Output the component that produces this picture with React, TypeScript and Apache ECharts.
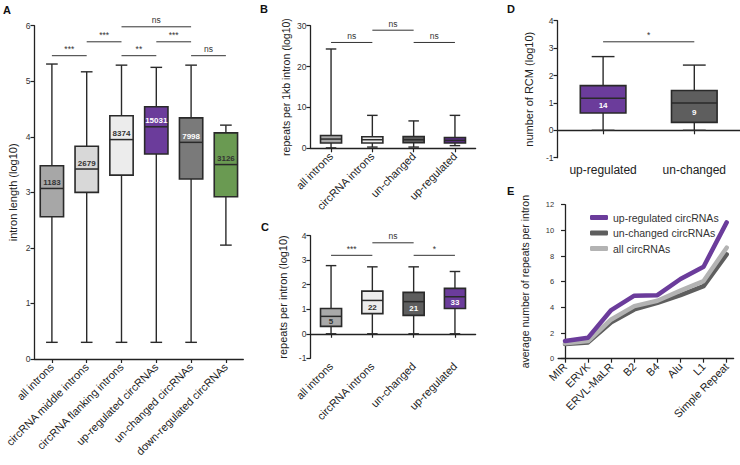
import React, { useEffect, useRef } from 'react';
import * as echarts from 'echarts';

const FONT = '"Liberation Sans", Arial, Helvetica, sans-serif';

// ---------- Panel A ----------
const aCategories = ['all introns', 'circRNA middle introns', 'circRNA flanking introns', 'up-regulated circRNAs', 'un-changed circRNAs', 'down-regulated circRNAs'];
const aMin = [0.3, 0.3, 0.3, 0.3, 0.3, 2.05];
const aQ1 = [2.56, 3.0, 3.31, 3.69, 3.24, 2.92];
const aMedian = [3.07, 3.42, 3.95, 4.18, 3.9, 3.5];
const aQ3 = [3.48, 3.83, 4.38, 4.54, 4.34, 4.07];
const aMax = [5.31, 5.17, 5.29, 5.25, 5.29, 4.21];
const aCounts = ['1183', '2679', '8374', '15031', '7998', '3126'];
const aSigFrom = [0, 1, 2, 2, 3, 4];
const aSigTo = [1, 2, 3, 4, 4, 5];
const aSigY = [5.46, 5.71, 5.46, 5.98, 5.71, 5.46];
const aSigText = ['***', '***', '**', 'ns', '***', 'ns'];
const aColors = ['#a7a7a7', '#d8d8d8', '#ececec', '#6b3c9b', '#7a7a7a', '#6a9a52'];
const aLabelColors = ['#333', '#333', '#333', '#fff', '#fff', '#333'];

// ---------- Panel B ----------
const bCategories = ['all introns', 'circRNA introns', 'un-changed', 'up-regulated'];
const bMin = [0.1, 0.3, 0.3, 0.65];
const bQ1 = [1.29, 1.29, 1.37, 1.29];
const bMedian = [2.26, 2.1, 2.1, 1.94];
const bQ3 = [3.15, 2.82, 2.9, 2.66];
const bMax = [24.3, 8.06, 6.7, 8.06];
const bSigFrom = [0, 1, 2];
const bSigTo = [1, 2, 3];
const bSigY = [25.9, 28.9, 25.9];
const bSigText = ['ns', 'ns', 'ns'];
const bColors = ['#a9a9a9', '#ececec', '#5e5e5e', '#5a2d85'];

// ---------- Panel C ----------
const cCategories = ['all introns', 'circRNA introns', 'un-changed', 'up-regulated'];
const cMin = [0, 0, 0, 0];
const cQ1 = [0.3, 0.82, 0.75, 1.03];
const cMedian = [0.71, 1.36, 1.31, 1.51];
const cQ3 = [1.03, 1.74, 1.69, 1.85];
const cMax = [2.78, 2.73, 2.73, 2.54];
const cCounts = ['5', '22', '21', '33'];
const cSigFrom = [0, 1, 2];
const cSigTo = [1, 2, 3];
const cSigY = [3.2, 3.71, 3.2];
const cSigText = ['***', 'ns', '*'];
const cColors = ['#a9a9a9', '#ececec', '#5e5e5e', '#6b3c9b'];
const cLabelColors = ['#333', '#333', '#fff', '#fff'];

// ---------- Panel D ----------
const dCategories = ['up-regulated', 'un-changed'];
const dMin = [0, 0];
const dQ1 = [0.63, 0.29];
const dMedian = [1.17, 1.0];
const dQ3 = [1.63, 1.45];
const dMax = [2.69, 2.38];
const dCounts = ['14', '9'];
const dSigFrom = [0];
const dSigTo = [1];
const dSigY = [3.23];
const dSigText = ['*'];
const dColors = ['#6b3c9b', '#5e5e5e'];
const dLabelColors = ['#fff', '#fff'];

// ---------- Panel E ----------
const eCategories = ['MIR', 'ERVK', 'ERVL-MaLR', 'B2', 'B4', 'Alu', 'L1', 'Simple Repeat'];
const eUp = [1.38, 1.64, 3.79, 4.91, 4.95, 6.21, 7.17, 10.62];
const eUnchanged = [1.14, 1.27, 2.83, 3.84, 4.36, 4.96, 5.66, 8.13];
const eAll = [1.2, 1.38, 3.06, 4.1, 4.52, 5.3, 6.05, 8.65];
const eSeriesNames = ['up-regulated circRNAs', 'un-changed circRNAs', 'all circRNAs'];

const STROKE = '#2a2a2a';

function boxData(mn: number[], q1: number[], md: number[], q3: number[], mx: number[]) {
  return mn.map((v, i) => [i, v, q1[i], md[i], q3[i], mx[i]]);
}

function makeBoxRender(colors: string[], widthRatio: number, labels?: string[], labelColors?: string[], labelMode?: string) {
  return (params: any, api: any) => {
    const i = api.value(0);
    const pMin = api.coord([i, api.value(1)]);
    const pQ1 = api.coord([i, api.value(2)]);
    const pMed = api.coord([i, api.value(3)]);
    const pQ3 = api.coord([i, api.value(4)]);
    const pMax = api.coord([i, api.value(5)]);
    const band = api.size([1, 0])[0];
    const w = band * widthRatio;
    const cx = pMed[0];
    const cap = w / 4;
    const ls = { stroke: STROKE, lineWidth: 1.4 };
    const idx = params.dataIndex;
    const children: any[] = [
      { type: 'line', shape: { x1: cx, y1: pMax[1], x2: cx, y2: pQ3[1] }, style: ls },
      { type: 'line', shape: { x1: cx, y1: pQ1[1], x2: cx, y2: pMin[1] }, style: ls },
      { type: 'line', shape: { x1: cx - cap, y1: pMax[1], x2: cx + cap, y2: pMax[1] }, style: ls },
      { type: 'line', shape: { x1: cx - cap, y1: pMin[1], x2: cx + cap, y2: pMin[1] }, style: ls },
      {
        type: 'rect',
        shape: { x: cx - w / 2, y: pQ3[1], width: w, height: pQ1[1] - pQ3[1] },
        style: { fill: colors[idx], stroke: STROKE, lineWidth: 1.6 },
      },
      { type: 'line', shape: { x1: cx - w / 2, y1: pMed[1], x2: cx + w / 2, y2: pMed[1] }, style: { stroke: STROKE, lineWidth: 1.5 } },
    ];
    if (labels && labelColors) {
      const ty = labelMode === 'above' ? pMed[1] - 6 : (pMed[1] + pQ1[1]) / 2;
      children.push({
        type: 'text',
        style: {
          text: labels[idx],
          x: cx,
          y: ty,
          align: 'center',
          verticalAlign: 'middle',
          fill: labelColors[idx],
          fontSize: 8,
          fontWeight: 'bold',
          fontFamily: FONT,
        },
      });
    }
    return { type: 'group', children };
  };
}

function makeSigRender(texts: string[]) {
  return (params: any, api: any) => {
    const p1 = api.coord([api.value(0), api.value(2)]);
    const p2 = api.coord([api.value(1), api.value(2)]);
    return {
      type: 'group',
      children: [
        { type: 'line', shape: { x1: p1[0], y1: p1[1], x2: p2[0], y2: p2[1] }, style: { stroke: '#333', lineWidth: 1 } },
        {
          type: 'text',
          style: {
            text: texts[params.dataIndex],
            x: (p1[0] + p2[0]) / 2,
            y: p1[1] - 2,
            align: 'center',
            verticalAlign: 'bottom',
            fontSize: 8.5,
            fill: '#333',
            fontFamily: FONT,
          },
        },
      ],
    };
  };
}

function sigData(from: number[], to: number[], y: number[]) {
  return from.map((f, i) => [f, to[i], y[i]]);
}

const axisLine = { show: true, lineStyle: { color: '#222', width: 1.3 } };
const axisTick = { show: true, length: 4, lineStyle: { color: '#222', width: 1.2 } };

function catAxis(gridIndex: number, data: string[], rotate: number, fontSize: number) {
  return {
    type: 'category',
    gridIndex,
    data,
    axisLine,
    axisTick: { ...axisTick, alignWithLabel: true },
    axisLabel: { interval: 0, rotate, fontSize, color: '#222', fontFamily: FONT, margin: 6 },
    splitLine: { show: false },
  };
}

function valAxis(gridIndex: number, min: number, max: number, interval: number, name: string, nameGap: number, nameSize: number, labelSize: number) {
  return {
    type: 'value',
    gridIndex,
    min,
    max,
    interval,
    name,
    nameLocation: 'middle',
    nameGap,
    nameRotate: 90,
    nameTextStyle: { fontSize: nameSize, color: '#222', fontFamily: FONT },
    axisLine,
    axisTick,
    axisLabel: { fontSize: labelSize, color: '#333', fontFamily: FONT, margin: 4 },
    splitLine: { show: false },
  };
}

export default function App() {
  const ref = useRef<HTMLDivElement>(null);
  useEffect(() => {
    if (!ref.current) return;
    const chart = echarts.init(ref.current, undefined, { renderer: 'svg' });
    const letter = (t: string, x: number, y: number) => ({
      type: 'text',
      left: x,
      top: y,
      style: { text: t, fontSize: 11, fontWeight: 'bold', fill: '#111', fontFamily: FONT },
    });
    const option: any = {
      animation: false,
      backgroundColor: '#fff',
      grid: [
        { left: 34.5, top: 25.7, width: 208.8, height: 333.3 },
        { left: 310.4, top: 25.7, width: 165.2, height: 122.6 },
        { left: 310.4, top: 235.7, width: 165.2, height: 122.6 },
        { left: 557.5, top: 20.7, width: 182.4, height: 137 },
        { left: 558.1, top: 204.7, width: 175.5, height: 154 },
      ],
      xAxis: [
        catAxis(0, aCategories, 45, 11),
        catAxis(1, bCategories, 45, 11),
        catAxis(2, cCategories, 45, 11),
        catAxis(3, dCategories, 0, 12),
        {
          type: 'value',
          gridIndex: 4,
          min: -0.3,
          max: 7.3,
          axisLine,
          axisTick: { ...axisTick, customValues: eCategories.map((_, i) => i) },
          axisLabel: {
            customValues: eCategories.map((_, i) => i),
            formatter: (v: number) => eCategories[Math.round(v)] ?? '',
            rotate: 45,
            fontSize: 11,
            color: '#222',
            fontFamily: FONT,
            margin: 6,
          },
          splitLine: { show: false },
        },
      ],
      yAxis: [
        valAxis(0, 0, 6, 1, 'intron length (log10)', 16, 11, 8.5),
        valAxis(1, 0, 30, 10, 'repeats per 1kb intron (log10)', 19, 10.5, 8.5),
        valAxis(2, -1, 4, 1, 'repeats per intron (log10)', 22, 11, 8.5),
        valAxis(3, -1, 4, 1, 'number of RCM (log10)', 23, 11, 8.5),
        valAxis(4, 0, 12, 2, 'average number of repeats per intron', 28, 10.5, 7.5),
      ],
      legend: {
        data: eSeriesNames,
        orient: 'vertical',
        left: 585,
        top: 207,
        icon: 'roundRect',
        itemWidth: 18,
        itemHeight: 5,
        itemGap: 4.5,
        textStyle: { fontSize: 10.5, color: '#333', fontFamily: FONT },
      },
      graphic: [letter('A', 3, 4), letter('B', 260, 3), letter('C', 261, 221), letter('D', 507, 3), letter('E', 507, 185)],
      series: [
        {
          type: 'custom', xAxisIndex: 0, yAxisIndex: 0,
          renderItem: makeBoxRender(aColors, 0.67, aCounts, aLabelColors, 'above'),
          encode: { x: 0, y: [1, 2, 3, 4, 5] },
          data: boxData(aMin, aQ1, aMedian, aQ3, aMax),
        },
        {
          type: 'custom', xAxisIndex: 0, yAxisIndex: 0, clip: false,
          renderItem: makeSigRender(aSigText),
          encode: { x: [0, 1], y: 2 },
          data: sigData(aSigFrom, aSigTo, aSigY),
        },
        {
          type: 'custom', xAxisIndex: 1, yAxisIndex: 1,
          renderItem: makeBoxRender(bColors, 0.51),
          encode: { x: 0, y: [1, 2, 3, 4, 5] },
          data: boxData(bMin, bQ1, bMedian, bQ3, bMax),
        },
        {
          type: 'custom', xAxisIndex: 1, yAxisIndex: 1, clip: false,
          renderItem: makeSigRender(bSigText),
          encode: { x: [0, 1], y: 2 },
          data: sigData(bSigFrom, bSigTo, bSigY),
        },
        {
          type: 'custom', xAxisIndex: 2, yAxisIndex: 2,
          renderItem: makeBoxRender(cColors, 0.51, cCounts, cLabelColors, 'below'),
          encode: { x: 0, y: [1, 2, 3, 4, 5] },
          data: boxData(cMin, cQ1, cMedian, cQ3, cMax),
        },
        {
          type: 'custom', xAxisIndex: 2, yAxisIndex: 2, clip: false,
          renderItem: makeSigRender(cSigText),
          encode: { x: [0, 1], y: 2 },
          data: sigData(cSigFrom, cSigTo, cSigY),
        },
        {
          type: 'custom', xAxisIndex: 3, yAxisIndex: 3,
          renderItem: makeBoxRender(dColors, 0.5, dCounts, dLabelColors, 'below'),
          encode: { x: 0, y: [1, 2, 3, 4, 5] },
          data: boxData(dMin, dQ1, dMedian, dQ3, dMax),
        },
        {
          type: 'custom', xAxisIndex: 3, yAxisIndex: 3, clip: false,
          renderItem: makeSigRender(dSigText),
          encode: { x: [0, 1], y: 2 },
          data: sigData(dSigFrom, dSigTo, dSigY),
        },
        {
          type: 'line', name: eSeriesNames[1], xAxisIndex: 4, yAxisIndex: 4,
          color: '#5e5e5e', showSymbol: false,
          lineStyle: { width: 4.5, cap: 'round', join: 'round', color: '#5e5e5e' },
          data: eUnchanged.map((v, i) => [i, v]),
        },
        {
          type: 'line', name: eSeriesNames[2], xAxisIndex: 4, yAxisIndex: 4,
          color: '#b3b3b3', showSymbol: false,
          lineStyle: { width: 4.5, cap: 'round', join: 'round', color: '#b3b3b3' },
          data: eAll.map((v, i) => [i, v]),
        },
        {
          type: 'line', name: eSeriesNames[0], xAxisIndex: 4, yAxisIndex: 4,
          color: '#6b3c9b', showSymbol: false,
          lineStyle: { width: 4.5, cap: 'round', join: 'round', color: '#6b3c9b' },
          data: eUp.map((v, i) => [i, v]),
        },
      ],
    };
    chart.setOption(option);
    return () => chart.dispose();
  }, []);
  return <div ref={ref} style={{ position: 'fixed', left: 0, top: 0, width: 740, height: 465 }} />;
}
